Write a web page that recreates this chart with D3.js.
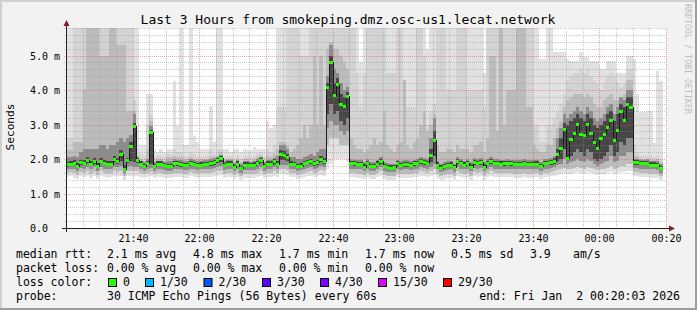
<!DOCTYPE html>
<html>
<head>
<meta charset="utf-8">
<script src="https://cdn.jsdelivr.net/npm/d3@7"></script>
<style>
  html, body { margin: 0; padding: 0; background: #f2f2f2; }
  svg { display: block; font-family: "DejaVu Sans Mono", monospace; }
  svg text { white-space: pre; }
</style>
</head>
<body>
<svg width="697" height="310"></svg>
<script>
// one column per minute, 21:20:03 -> 00:20:03
const startTime = new Date(2026, 0, 1, 21, 20, 3);
const endTime = new Date(2026, 0, 2, 0, 20, 3);

// median rtt (ms)
const median = [
  1.85,1.87,1.89,1.80,1.91,1.89,1.97,1.87,1.95,1.79, 1.95,1.89,1.87,1.87,2.01,1.95,2.16,1.72,1.96,2.39, 2.95,1.96,1.87,1.80,1.89,2.78,1.80,1.87,1.87,1.82,
  1.80,1.80,1.89,1.88,1.85,1.82,1.82,1.89,1.86,1.82, 1.84,1.86,1.86,1.88,1.91,1.96,2.03,1.82,1.87,1.87, 1.78,1.87,1.73,1.84,1.84,1.82,1.84,1.89,1.96,1.80,
  1.87,1.87,1.94,1.87,2.15,2.13,2.07,1.87,1.86,1.79, 1.81,1.89,1.92,1.94,1.88,1.90,2.01,1.95,4.09,4.82, 3.86,4.17,3.61,3.54,3.83,1.89,1.88,1.86,1.86,1.78,
  1.89,1.80,1.80,1.87,1.94,1.79,1.77,1.75,1.76,1.88, 1.82,1.85,1.85,1.82,1.88,1.89,1.94,1.91,1.89,2.12, 2.54,1.84,1.75,1.80,1.82,1.84,1.76,1.94,1.89,1.84,
  1.89,1.78,1.91,1.89,1.91,1.78,1.89,1.94,1.89,1.89, 1.87,1.88,1.89,1.88,1.86,1.86,1.86,1.89,1.86,1.86, 1.87,1.87,1.80,1.89,1.89,1.91,1.94,2.14,2.33,2.88,
  2.02,2.59,2.76,3.01,2.72,2.69,3.01,2.76,2.49,2.31, 2.60,2.74,2.94,3.14,2.55,2.83,3.38,3.13,3.61,3.51, 1.91,1.91,1.88,1.88,1.89,1.84,1.84,1.82,1.73,null
];

// smoke: upper edges of each shade (6 = above the graph)
const pingMax = [
  6,6,6,6,6,6,6,6,6,6, 6,6,6,6,6,6,6,6,6,6, 6,6,2.4,2.4,3.9,3.9,2.3,2.2,2.3,2.2,
  2.3,2.3,4.27,2.96,6,2.4,2.4,6,2.67,2.5, 2.3,2.3,2.3,3.54,2.5,6,6,2.3,2.3,2.2, 2.3,2.3,2.2,2.3,2.25,2.25,2.35,2.3,2.3,2.3,
  3.1,2.9,3.0,6,6,6,6,6,6,6, 6,6,6,6,6,6,6,6,6,6, 6,6,6,6,6,6,6,6,4.8,6,
  6,6,6,6,6,6,6,6,6,6, 6,6,6,6,6,6,6,6,5.2,6, 6,6,6,6,6,6,6,6,6,6,
  6,6,6,6,6,4.5,6,6,6,6, 6,6,6,6,6,6,6,6,6,6, 6,6,4.9,4.9,6,6,5.1,5.1,5.1,5.1,
  4.9,4.85,4.85,4.85,5.1,4.95,4.95,4.85,4.85,4.85, 4.6,4.6,4.85,4.85,4.85,4.5,4.5,4.5,5.0,5.0, 4.9,3.9,3.35,3.35,3.4,3.4,2.47,4.55,4.26,null
];
const pingHi = [
  2.6,2.6,6,6,6,6,6,6,6,6, 6,6,6,6,6,6,6,6,6,6, 3.7,2.3,2.15,2.1,3.0,3.3,2.05,2.1,2.1,2.05,
  2.15,2.15,2.3,2.2,2.2,2.1,2.1,2.2,2.15,2.1, 2.05,2.1,2.1,2.3,2.15,2.25,2.3,2.05,2.1,2.1, 2.0,2.1,2.0,2.1,2.1,2.05,2.1,2.15,2.2,2.05,
  2.3,2.2,2.4,3.5,3.5,3.5,6,6,6,6, 5.0,5.0,5.0,6,6,6,6,6,6,6, 6,6,6,6,6,6,6,4.5,3.5,4.5,
  6,6,6,6,6,6,4.5,4.5,4.5,6, 6,3.5,3.5,3.5,3.5,6,6,5.0,3.0,3.4, 3.6,6,6,6,4.0,4.0,4.0,6,6,6,
  4.0,4.0,4.0,4.0,4.0,3.5,6,6,6,6, 6,6,6,6,6,6,6,6,6,6, 3.0,3.0,2.5,2.5,3.0,3.0,3.2,3.4,3.6,3.9,
  4.3,4.4,4.5,4.5,4.6,4.5,4.6,4.4,4.3,4.2, 4.0,4.2,4.4,4.5,4.4,4.2,4.1,4.2,4.6,4.6, 2.4,2.2,2.1,2.1,2.1,2.1,2.05,2.1,2.0,null
];
const pingMid = [
  2.25,2.25,2.5,2.5,2.5,4.0,6,6,6,6, 5.0,5.0,5.0,6,6,5.3,5.3,5.3,3.4,3.4, 3.4,2.1,2.0,1.95,2.3,3.1,1.95,2.0,2.0,1.95,
  2.05,2.05,2.1,2.05,2.05,2.0,2.0,2.05,2.0,2.0, 2.0,2.0,2.0,2.1,2.05,2.1,2.2,1.98,2.0,2.0, 1.92,2.0,1.9,2.0,2.0,1.95,2.0,2.05,2.1,1.95,
  2.1,2.05,2.15,2.3,2.5,2.5,2.4,2.2,2.3,2.4, 2.6,3.0,2.6,3.0,5.0,3.0,5.0,3.0,5.2,5.4, 5.2,5.2,5.0,4.8,4.6,2.6,2.4,2.3,2.3,2.2,
  2.3,2.4,2.6,2.4,2.5,3.4,2.4,2.3,2.2,2.4, 2.5,4.3,2.4,2.3,2.5,2.6,3.0,3.4,2.8,3.0, 3.3,2.4,2.2,2.2,2.3,2.3,2.2,2.4,2.3,2.3,
  2.3,2.2,2.4,2.4,2.5,2.2,2.6,5.0,5.0,2.8, 6,3.0,4.0,4.0,4.0,6,6,6,3.5,3.5, 2.4,2.3,2.2,2.2,2.4,2.4,2.6,2.9,3.1,3.5,
  3.7,3.8,3.9,3.9,3.9,3.8,3.9,3.8,3.6,3.5, 3.5,3.7,3.8,3.9,3.7,3.7,3.8,3.9,4.3,4.3, 2.1,2.05,2.0,2.0,2.0,1.98,1.98,2.0,1.9,null
];
const pingDark = [
  2.05,2.05,2.1,2.05,2.2,2.3,2.3,2.3,2.3,2.3, 2.4,2.4,2.3,2.4,2.4,2.5,2.6,2.5,2.6,2.7, 3.3,2.05,1.95,1.92,2.0,2.95,1.92,1.95,1.95,1.92,
  1.95,1.95,2.0,1.98,1.96,1.93,1.93,1.99,1.96,1.93, 1.94,1.96,1.96,1.99,2.02,2.06,2.13,1.93,1.97,1.97, 1.88,1.97,1.85,1.94,1.94,1.92,1.94,1.99,2.06,1.9,
  1.97,1.97,2.04,2.1,2.4,2.4,2.3,2.05,2.05,2.0, 2.0,2.05,2.1,2.15,2.1,2.2,2.3,2.3,4.4,5.3, 4.6,4.5,4.2,4.0,4.1,2.0,1.98,1.96,1.96,1.9,
  2.0,1.92,1.92,1.98,2.05,1.9,1.88,1.86,1.87,1.98, 1.93,1.96,1.96,1.93,1.98,2.0,2.05,2.02,2.0,2.6, 3.2,1.95,1.86,1.9,1.93,1.95,1.87,2.05,2.0,1.95,
  2.0,1.9,2.02,2.0,2.02,1.9,2.0,2.05,2.0,2.0, 1.98,1.98,2.0,1.98,1.97,1.97,1.97,2.0,1.97,1.97, 1.98,1.98,1.92,2.0,2.0,2.02,2.1,2.6,2.9,3.3,
  3.2,3.3,3.4,3.5,3.4,3.3,3.5,3.4,3.2,3.1, 3.2,3.3,3.5,3.6,3.3,3.5,3.8,3.7,4.0,4.0, 2.0,2.0,1.98,1.98,1.99,1.95,1.95,1.93,1.85,null
];
const pingCore = [
  1.92,1.94,1.96,1.88,1.98,1.97,2.05,1.95,2.02,1.88, 2.03,1.97,1.95,1.95,2.08,2.03,2.25,1.82,2.04,2.5, 3.05,2.02,1.93,1.87,1.95,2.85,1.87,1.93,1.93,1.88,
  1.87,1.87,1.95,1.94,1.91,1.88,1.88,1.95,1.92,1.88, 1.9,1.92,1.92,1.94,1.97,2.02,2.09,1.88,1.93,1.93, 1.84,1.93,1.8,1.9,1.9,1.88,1.9,1.95,2.02,1.86,
  1.93,1.93,2.0,1.95,2.25,2.22,2.15,1.93,1.92,1.86, 1.88,1.95,1.98,2.0,1.95,1.97,2.08,2.02,4.2,5.0, 4.2,4.35,3.9,3.8,3.95,1.95,1.94,1.92,1.92,1.85,
  1.95,1.87,1.87,1.93,2.0,1.86,1.84,1.82,1.83,1.94, 1.88,1.91,1.91,1.88,1.94,1.95,2.0,1.97,1.95,2.3, 2.8,1.9,1.82,1.86,1.88,1.9,1.83,2.0,1.95,1.9,
  1.95,1.85,1.97,1.95,1.97,1.85,1.95,2.0,1.95,1.95, 1.93,1.94,1.95,1.94,1.92,1.92,1.92,1.95,1.92,1.92, 1.93,1.93,1.87,1.95,1.95,1.97,2.02,2.3,2.6,3.05,
  3.0,3.1,3.2,3.3,3.2,3.1,3.3,3.2,3.0,2.9, 3.0,3.1,3.3,3.4,3.1,3.3,3.6,3.5,3.8,3.8, 1.96,1.96,1.93,1.93,1.94,1.9,1.9,1.88,1.79,null
];

// smoke: lower edges
const coreLow = [
  1.78,1.8,1.82,1.74,1.84,1.82,1.88,1.8,1.87,1.73, 1.88,1.82,1.8,1.8,1.9,1.87,1.95,1.67,1.88,1.95, 1.9,1.88,1.8,1.74,1.82,1.85,1.74,1.8,1.8,1.76,
  1.74,1.74,1.82,1.81,1.78,1.76,1.76,1.82,1.79,1.76, 1.78,1.79,1.79,1.81,1.84,1.88,1.92,1.76,1.8,1.8, 1.72,1.8,1.67,1.77,1.77,1.76,1.77,1.82,1.88,1.74,
  1.8,1.8,1.86,1.8,1.98,1.98,1.95,1.8,1.79,1.73, 1.75,1.82,1.85,1.86,1.81,1.83,1.92,1.87,3.3,3.6, 3.3,3.4,3.1,3.0,3.2,1.82,1.81,1.79,1.79,1.72,
  1.82,1.74,1.74,1.8,1.86,1.73,1.71,1.69,1.7,1.81, 1.76,1.78,1.78,1.76,1.81,1.82,1.86,1.84,1.82,1.9, 2.1,1.78,1.69,1.74,1.76,1.78,1.7,1.86,1.82,1.78,
  1.82,1.72,1.84,1.82,1.84,1.72,1.82,1.86,1.82,1.82, 1.8,1.81,1.82,1.81,1.79,1.79,1.79,1.82,1.79,1.79, 1.8,1.8,1.74,1.82,1.82,1.84,1.86,1.95,2.0,2.3,
  2.0,2.1,2.2,2.3,2.2,2.1,2.3,2.2,2.0,1.95, 2.0,2.1,2.2,2.4,2.1,2.2,2.5,2.4,2.6,2.6, 1.84,1.84,1.82,1.82,1.82,1.78,1.78,1.76,1.67,null
];
const darkLow = [
  1.7,1.72,1.72,1.66,1.74,1.72,1.76,1.7,1.76,1.64, 1.76,1.72,1.7,1.7,1.78,1.76,1.8,1.6,1.76,1.8, 1.78,1.76,1.7,1.66,1.72,1.74,1.66,1.7,1.7,1.68,
  1.66,1.66,1.72,1.72,1.7,1.68,1.68,1.72,1.7,1.68, 1.7,1.7,1.7,1.72,1.74,1.78,1.8,1.68,1.72,1.72, 1.64,1.72,1.6,1.68,1.68,1.68,1.68,1.72,1.76,1.66,
  1.72,1.72,1.76,1.72,1.84,1.84,1.82,1.72,1.7,1.66, 1.67,1.72,1.74,1.76,1.72,1.74,1.8,1.76,2.9,3.1, 3.0,3.0,2.8,2.7,2.8,1.72,1.72,1.7,1.7,1.64,
  1.72,1.66,1.66,1.72,1.76,1.65,1.63,1.62,1.62,1.72, 1.68,1.7,1.7,1.68,1.72,1.72,1.76,1.74,1.72,1.76, 1.85,1.7,1.62,1.66,1.68,1.7,1.63,1.76,1.72,1.7,
  1.72,1.64,1.74,1.72,1.74,1.64,1.72,1.76,1.72,1.72, 1.72,1.72,1.72,1.72,1.7,1.7,1.7,1.72,1.7,1.7, 1.72,1.72,1.66,1.72,1.72,1.74,1.76,1.82,1.85,2.0,
  1.85,1.9,1.95,2.0,1.95,1.9,2.0,1.95,1.85,1.8, 1.85,1.9,1.95,2.1,1.9,1.95,2.1,2.1,2.2,2.2, 1.74,1.74,1.72,1.72,1.72,1.7,1.7,1.68,1.6,null
];
const midLow = [
  1.6,1.62,1.6,1.55,1.62,1.6,1.64,1.58,1.62,1.54, 1.64,1.6,1.58,1.6,1.64,1.62,1.66,1.5,1.64,1.66, 1.64,1.64,1.6,1.56,1.6,1.62,1.56,1.6,1.6,1.58,
  1.56,1.56,1.6,1.6,1.6,1.58,1.58,1.62,1.6,1.56, 1.6,1.6,1.6,1.6,1.62,1.64,1.66,1.58,1.6,1.6, 1.54,1.6,1.5,1.58,1.58,1.56,1.58,1.6,1.64,1.56,
  1.6,1.6,1.64,1.6,1.7,1.7,1.68,1.6,1.6,1.55, 1.56,1.6,1.62,1.64,1.6,1.62,1.68,1.64,2.4,2.6, 2.6,2.6,2.4,2.4,2.4,1.6,1.6,1.58,1.58,1.54,
  1.6,1.55,1.55,1.6,1.64,1.54,1.52,1.5,1.52,1.6, 1.56,1.58,1.58,1.56,1.6,1.6,1.64,1.62,1.6,1.64, 1.7,1.58,1.5,1.55,1.56,1.58,1.52,1.64,1.6,1.58,
  1.6,1.52,1.62,1.6,1.62,1.52,1.6,1.64,1.6,1.6, 1.6,1.6,1.6,1.6,1.58,1.58,1.58,1.6,1.58,1.58, 1.6,1.6,1.55,1.6,1.6,1.62,1.64,1.68,1.7,1.75,
  1.7,1.72,1.75,1.78,1.75,1.72,1.78,1.75,1.7,1.68, 1.7,1.72,1.75,1.8,1.72,1.75,1.8,1.8,1.85,1.85, 1.62,1.62,1.6,1.6,1.6,1.58,1.58,1.56,1.5,null
];
const pingMin = [
  1.48,1.5,1.46,1.42,1.5,1.48,1.52,1.45,1.5,1.42, 1.52,1.48,1.45,1.48,1.52,1.5,1.52,1.38,1.52,1.52, 1.5,1.52,1.48,1.44,1.48,1.5,1.44,1.48,1.48,1.46,
  1.44,1.44,1.48,1.48,1.48,1.46,1.46,1.5,1.48,1.44, 1.48,1.48,1.48,1.48,1.5,1.52,1.54,1.46,1.48,1.48, 1.42,1.48,1.38,1.46,1.46,1.44,1.46,1.48,1.52,1.44,
  1.48,1.48,1.52,1.48,1.56,1.56,1.54,1.48,1.48,1.43, 1.44,1.48,1.5,1.52,1.48,1.5,1.55,1.52,1.7,1.85, 2.0,2.0,2.0,2.0,1.9,1.48,1.48,1.46,1.46,1.42,
  1.48,1.43,1.43,1.48,1.52,1.42,1.4,1.38,1.4,1.48, 1.44,1.46,1.46,1.44,1.48,1.48,1.52,1.5,1.48,1.52, 1.55,1.46,1.38,1.43,1.44,1.46,1.4,1.52,1.48,1.46,
  1.48,1.4,1.5,1.48,1.5,1.4,1.48,1.52,1.48,1.48, 1.48,1.48,1.48,1.48,1.46,1.46,1.46,1.48,1.46,1.46, 1.48,1.48,1.43,1.48,1.48,1.5,1.52,1.55,1.56,1.6,
  1.58,1.58,1.6,1.62,1.6,1.58,1.62,1.6,1.56,1.55, 1.56,1.58,1.6,1.62,1.58,1.6,1.62,1.62,1.65,1.65, 1.5,1.5,1.48,1.48,1.48,1.46,1.46,1.44,1.4,null
];

const yTickValues = [0, 1, 2, 3, 4, 5];
const yTickLabels = ["0.0", "1.0 m", "2.0 m", "3.0 m", "4.0 m", "5.0 m"];
const xTickLabels = ["21:40", "22:00", "22:20", "22:40", "23:00", "23:20", "23:40", "00:00", "00:20"];

const lossColors = ["#26ff00", "#00b8ff", "#0059ff", "#5e00ff", "#7e00ff", "#dd00ff", "#ff0000"];
const lossLabels = ["0", "1/30", "2/30", "3/30", "4/30", "15/30", "29/30"];

const rttStats = ["2.1 ms avg", "4.8 ms max", "1.7 ms min", "1.7 ms now", "0.5 ms sd", "3.9", "am/s"];
const lossStats = ["0.00 % avg", "0.00 % max", "0.00 % min", "0.00 % now"];

const svg = d3.select("svg");
const W = 697, H = 310;

// background + shade
svg.append("rect").attr("width", W).attr("height", H).attr("fill", "#f2f2f2");
svg.append("path").attr("d", `M1,${H} V1 H${W}`).attr("stroke", "#cfcfcf").attr("stroke-width", 2).attr("fill", "none");
svg.append("path").attr("d", `M0,${H - 1} H${W - 1} V0`).attr("stroke", "#9e9e9e").attr("stroke-width", 2).attr("fill", "none");

const x = d3.scaleTime().domain([startTime, endTime]).rangeRound([66, 666]);
const y = d3.scaleLinear().domain([0, 5.8]).rangeRound([228, 28]).clamp(true);

svg.append("rect")
  .attr("x", x.range()[0]).attr("y", y.range()[1])
  .attr("width", x.range()[1] - x.range()[0]).attr("height", y.range()[0] - y.range()[1])
  .attr("fill", "#fff");

const colTimes = d3.range(median.length + 1).map((i) => d3.timeMinute.offset(startTime, i));

function stepRows(top, bot) {
  const rows = [];
  top.forEach((v, i) => {
    if (v == null || bot[i] == null) { rows.push(null); return; }
    rows.push({ t: colTimes[i], top: v, bot: bot[i] });
    rows.push({ t: colTimes[i + 1], top: v, bot: bot[i] });
  });
  return rows;
}

const smokeArea = d3.area()
  .defined((d) => d != null)
  .x((d) => x(d.t))
  .y0((d) => y(d.bot))
  .y1((d) => y(d.top));

const bands = [
  { top: pingMax, bot: pingMin, color: "#e1e1e1" },
  { top: pingHi, bot: midLow, color: "#d3d3d3" },
  { top: pingMid, bot: midLow, color: "#bcbcbc" },
  { top: pingDark, bot: darkLow, color: "#8c8c8c" },
  { top: pingCore, bot: coreLow, color: "#474747" }
];

const smokeG = svg.append("g").attr("shape-rendering", "crispEdges");
bands.forEach((b) => {
  smokeG.append("path").attr("d", smokeArea(stepRows(b.top, b.bot))).attr("fill", b.color);
});

// grid
const gridG = svg.append("g").attr("shape-rendering", "crispEdges");
const minorY = d3.range(1, 30).filter((k) => k % 5 !== 0).map((k) => k / 5);
const majorY = yTickValues.filter((v) => v > 0);
const minorX = d3.timeMinute.every(5).range(d3.timeMinute.offset(startTime, 1), endTime)
  .filter((d) => d.getMinutes() % 20 !== 0);
const majorX = d3.timeMinute.every(20).range(d3.timeMinute.offset(startTime, 1), endTime);

gridG.selectAll("line.hmin").data(minorY).join("line")
  .attr("x1", x.range()[0] - 2).attr("x2", x.range()[1])
  .attr("y1", (d) => y(d) + 0.5).attr("y2", (d) => y(d) + 0.5)
  .attr("stroke", "rgba(143,143,143,0.45)").attr("stroke-dasharray", "1,1");
gridG.selectAll("line.vmin").data(minorX).join("line")
  .attr("x1", (d) => x(d) + 0.5).attr("x2", (d) => x(d) + 0.5)
  .attr("y1", y.range()[1]).attr("y2", y.range()[0] + 2)
  .attr("stroke", "rgba(143,143,143,0.45)").attr("stroke-dasharray", "1,1");
gridG.selectAll("line.hmaj").data(majorY).join("line")
  .attr("x1", x.range()[0] - 2).attr("x2", x.range()[1])
  .attr("y1", (d) => y(d) + 0.5).attr("y2", (d) => y(d) + 0.5)
  .attr("stroke", "rgba(222,79,79,0.5)").attr("stroke-dasharray", "1,1");
gridG.selectAll("line.vmaj").data(majorX).join("line")
  .attr("x1", (d) => x(d) + 0.5).attr("x2", (d) => x(d) + 0.5)
  .attr("y1", y.range()[1]).attr("y2", y.range()[0] + 2)
  .attr("stroke", "rgba(222,79,79,0.5)").attr("stroke-dasharray", "1,1");

// median: dark step line + green loss-colour dashes
const medRows = [];
median.forEach((v, i) => {
  if (v == null) { medRows.push(null); return; }
  medRows.push({ t: colTimes[i], v }, { t: colTimes[i + 1], v });
});
const medLine = d3.line().defined((d) => d != null).x((d) => x(d.t)).y((d) => y(d.v) + 0.5);
svg.append("path").attr("d", medLine(medRows))
  .attr("fill", "none").attr("stroke", "#1a1a1a").attr("stroke-width", 1)
  .attr("shape-rendering", "crispEdges");

svg.append("g").selectAll("path")
  .data(median.map((v, i) => ({ v, i })).filter((d) => d.v != null))
  .join("path")
  .attr("d", (d) => medLine([{ t: colTimes[d.i], v: d.v }, { t: colTimes[d.i + 1], v: d.v }]))
  .attr("stroke", lossColors[0]).attr("stroke-width", 3).attr("fill", "none")
  .attr("shape-rendering", "crispEdges");

// axes
const axisG = svg.append("g");
axisG.append("line")
  .attr("x1", x.range()[0] - 4).attr("x2", x.range()[1] + 5)
  .attr("y1", y(0) + 0.5).attr("y2", y(0) + 0.5)
  .attr("stroke", "#1f1f1f");
axisG.append("line")
  .attr("x1", x.range()[0] + 0.5).attr("x2", x.range()[0] + 0.5)
  .attr("y1", y(0) + 4).attr("y2", y.range()[1] - 4)
  .attr("stroke", "#1f1f1f");
const ax = x.range()[1] + 3, ay = y(0) + 0.5;
axisG.append("path").attr("d", `M${ax},${ay - 3} L${ax + 6},${ay} L${ax},${ay + 3} Z`).attr("fill", "#801f1f");
const bx = x.range()[0] + 0.5, by = y.range()[1] - 2;
axisG.append("path").attr("d", `M${bx - 3},${by} L${bx},${by - 6} L${bx + 3},${by} Z`).attr("fill", "#801f1f");

// y labels
svg.append("g").selectAll("text").data(yTickValues).join("text")
  .attr("x", 30).attr("y", (d) => y(d) + 4)
  .attr("font-size", 10).attr("fill", "#000")
  .text((d, i) => yTickLabels[i]);

// x labels
svg.append("g").selectAll("text").data(majorX).join("text")
  .attr("x", (d) => x(d) + 0.5).attr("y", 241.5)
  .attr("text-anchor", "middle").attr("font-size", 10).attr("fill", "#000")
  .text((d, i) => xTickLabels[i]);

// titles
svg.append("text").attr("x", 348).attr("y", 24).attr("text-anchor", "middle")
  .attr("font-size", 13).text("Last 3 Hours from smokeping.dmz.osc-us1.lecat.network");
svg.append("text").attr("transform", "translate(14,127) rotate(-90)").attr("text-anchor", "middle")
  .attr("font-size", 11.2).text("Seconds");
svg.append("text").attr("transform", "translate(685,4) rotate(90)")
  .attr("font-size", 8.3).attr("fill", "#bdbdbd").text("RRDTOOL / TOBI OETIKER");

// legend
const legG = svg.append("g").attr("font-size", 11.5).attr("fill", "#000");
const rttX = [107, 193, 279, 365, 451, 530, 573];
const lossX = [107, 193, 279, 365];
legG.append("text").attr("x", 16).attr("y", 258).text("median rtt:");
rttStats.forEach((s, i) => legG.append("text").attr("x", rttX[i]).attr("y", 258).text(s));
legG.append("text").attr("x", 16).attr("y", 272).text("packet loss:");
lossStats.forEach((s, i) => legG.append("text").attr("x", lossX[i]).attr("y", 272).text(s));
legG.append("text").attr("x", 16).attr("y", 286).text("loss color:");
const boxX = [108, 145, 203.5, 262, 320, 378, 443];
lossLabels.forEach((s, i) => {
  legG.append("rect").attr("x", boxX[i] + 0.5).attr("y", 278.5).attr("width", 8).attr("height", 8)
    .attr("fill", lossColors[i]).attr("stroke", "#000").attr("stroke-width", 1);
  legG.append("text").attr("x", boxX[i] + 15).attr("y", 286).text(s);
});
legG.append("text").attr("x", 16).attr("y", 300).text("probe:");
legG.append("text").attr("x", 107).attr("y", 300).text("30 ICMP Echo Pings (56 Bytes) every 60s");
legG.append("text").attr("x", 680).attr("y", 300).attr("text-anchor", "end").text("end: Fri Jan  2 00:20:03 2026");
</script>
</body>
</html>
